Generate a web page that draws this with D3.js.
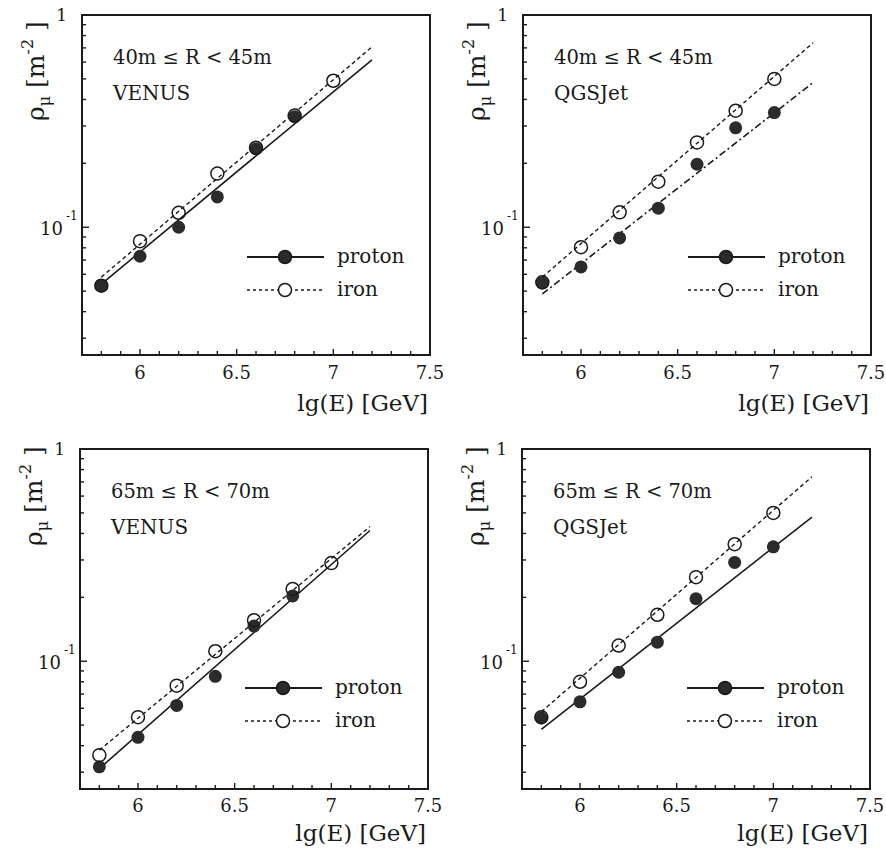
<!DOCTYPE html>
<html>
<head>
<meta charset="utf-8">
<script src="https://cdn.jsdelivr.net/npm/d3@7"></script>
<style>
  body { margin: 0; background: #fff; }
</style>
</head>
<body>
<svg id="chart" width="886" height="849"></svg>
<script>
// Energies (lg E) of the simulated points
const ENERGIES = [5.8, 6.0, 6.2, 6.4, 6.6, 6.8, 7.0];

// Muon densities (VENUS proton has no point at 7.0)
const VENUS_40_PROTON = [0.053, 0.073, 0.100, 0.139, 0.234, 0.332];
const VENUS_40_IRON = [0.053, 0.086, 0.117, 0.179, 0.237, 0.336, 0.49];
const QGSJET_40_PROTON = [0.0546, 0.065, 0.089, 0.123, 0.198, 0.294, 0.347];
const QGSJET_40_IRON = [0.055, 0.0805, 0.1175, 0.164, 0.251, 0.354, 0.50];
const VENUS_65_PROTON = [0.0318, 0.0438, 0.0619, 0.0849, 0.1465, 0.203];
const VENUS_65_IRON = [0.0361, 0.0545, 0.0767, 0.1115, 0.156, 0.219, 0.290];
const QGSJET_65_PROTON = [0.054, 0.0644, 0.0887, 0.123, 0.197, 0.292, 0.346];
const QGSJET_65_IRON = [0.0545, 0.080, 0.1186, 0.1655, 0.249, 0.356, 0.50];

// Fitted power laws: value at both ends of the fit range
const FIT_RANGE = [5.8, 7.2];
const VENUS_40_PROTON_FIT = [0.054, 0.615];
const VENUS_40_IRON_FIT = [0.0582, 0.708];
const QGSJET_40_PROTON_FIT = [0.0485, 0.48];
const QGSJET_40_IRON_FIT = [0.0582, 0.739];
const VENUS_65_PROTON_FIT = [0.0312, 0.413];
const VENUS_65_IRON_FIT = [0.0381, 0.431];
const QGSJET_65_PROTON_FIT = [0.0478, 0.478];
const QGSJET_65_IRON_FIT = [0.0578, 0.740];

// Axis ticks and texts
const X_TICK_LABELS = [6, 6.5, 7, 7.5];
const RADIUS_LABELS = ["40m ≤ R < 45m", "40m ≤ R < 45m", "65m ≤ R < 70m", "65m ≤ R < 70m"];
const MODEL_LABELS = ["VENUS", "QGSJet", "VENUS", "QGSJet"];
const LEGEND_LABELS = ["proton", "iron"];

// Panel table built from the arrays above
const PANELS = [
  { proton: VENUS_40_PROTON, iron: VENUS_40_IRON, pFit: VENUS_40_PROTON_FIT, fFit: VENUS_40_IRON_FIT, pDash: null },
  { proton: QGSJET_40_PROTON, iron: QGSJET_40_IRON, pFit: QGSJET_40_PROTON_FIT, fFit: QGSJET_40_IRON_FIT, pDash: "7,3,2,3" },
  { proton: VENUS_65_PROTON, iron: VENUS_65_IRON, pFit: VENUS_65_PROTON_FIT, fFit: VENUS_65_IRON_FIT, pDash: null },
  { proton: QGSJET_65_PROTON, iron: QGSJET_65_IRON, pFit: QGSJET_65_PROTON_FIT, fFit: QGSJET_65_IRON_FIT, pDash: null }
];
const ORIGINS = [[82, 15], [523, 15], [80, 449], [522, 449]];

const SVG = d3.select("#chart");
const W = 348;
const H = 340;
const INK = "#1a1a1a";

const SCALE_X = d3.scaleLinear().domain([5.7, 7.5]).range([0, W]);
const SCALE_Y = d3.scaleLog().domain([0.025, 1]).range([H, 0]);

const LINE = d3.line()
  .x(d => SCALE_X(d[0]))
  .y(d => SCALE_Y(d[1]));

// small helper: every label in the serif face that is available here
function label(sel, x, y, size, str) {
  return sel.append("text")
    .attr("x", x).attr("y", y)
    .style("font-family", "'DejaVu Serif', serif")
    .attr("font-size", size).attr("fill", INK)
    .text(str);
}

PANELS.forEach((p, i) => {
  const g = SVG.append("g").attr("transform", `translate(${ORIGINS[i][0]},${ORIGINS[i][1]})`);
  const top = i < 2;

  // x ticks every 0.1, pointing inward
  const xTicks = d3.range(58, 75).map(d => d / 10);
  g.selectAll("line.xt").data(xTicks).enter().append("line")
    .attr("x1", d => SCALE_X(d)).attr("x2", d => SCALE_X(d))
    .attr("y1", H).attr("y2", d => H - (Math.abs(d * 2 - Math.round(d * 2)) < 1e-6 ? 6 : 4))
    .attr("stroke", INK).attr("stroke-width", 1.4);

  // y log ticks, pointing inward
  g.selectAll("line.yt").data(SCALE_Y.ticks().filter(d => d < 1)).enter().append("line")
    .attr("x1", 0).attr("x2", d => (Math.abs(d - 0.1) < 1e-9 ? 7 : 4))
    .attr("y1", d => SCALE_Y(d)).attr("y2", d => SCALE_Y(d))
    .attr("stroke", INK).attr("stroke-width", 1.4);

  // frame
  g.append("rect").attr("width", W).attr("height", H)
    .attr("fill", "none").attr("stroke", INK).attr("stroke-width", 2);

  // x tick labels
  X_TICK_LABELS.forEach(d => {
    label(g, SCALE_X(d), H + (top ? 24 : 23), 18, d).attr("text-anchor", "middle");
  });

  // y tick labels: 1 and 10^-1
  label(g, -15, SCALE_Y(1) + 6, 17, "1").attr("text-anchor", "end");
  label(g, -19, SCALE_Y(0.1) + 8, 18, "10").attr("text-anchor", "end");
  label(g, -16, SCALE_Y(0.1) - 7, 12, "-1");

  // axis titles
  label(g, W - 2, top ? H + 56 : H + 52, 23, "lg(E) [GeV]").attr("text-anchor", "end");
  const yt = label(g, 0, 0, 25, null)
    .attr("transform", `translate(-38,${top ? 106 : 97}) rotate(-90)`);
  yt.append("tspan").text("ρ");
  yt.append("tspan").attr("font-size", 16).attr("dy", 6).text("μ");
  yt.append("tspan").attr("dy", -6).text(" [m");
  yt.append("tspan").attr("font-size", 16).attr("dy", -11).text("-2");
  yt.append("tspan").attr("dy", 11).text(" ]");

  // annotations
  label(g, 31, 49, 19.5, RADIUS_LABELS[i]);
  label(g, 31, 85, 20, MODEL_LABELS[i]);

  // fit lines
  g.append("path").datum(FIT_RANGE.map((x, k) => [x, p.pFit[k]]))
    .attr("d", LINE).attr("fill", "none").attr("stroke", INK).attr("stroke-width", 1.6)
    .attr("stroke-dasharray", p.pDash);
  g.append("path").datum(FIT_RANGE.map((x, k) => [x, p.fFit[k]]))
    .attr("d", LINE).attr("fill", "none").attr("stroke", INK).attr("stroke-width", 1.4)
    .attr("stroke-dasharray", "4,3");

  // proton points (filled)
  g.selectAll("circle.p").data(p.proton).enter().append("circle")
    .attr("cx", (d, k) => SCALE_X(ENERGIES[k])).attr("cy", d => SCALE_Y(d))
    .attr("r", 6.5).attr("fill", "#2b2b2b");

  // iron points (open)
  g.selectAll("circle.f").data(p.iron).enter().append("circle")
    .attr("cx", (d, k) => SCALE_X(ENERGIES[k])).attr("cy", d => SCALE_Y(d))
    .attr("r", 6.5).attr("fill", "none").attr("stroke", INK).attr("stroke-width", 1.5);

  // legend
  const lg = g.append("g").attr("transform", `translate(0,${top ? 242 : 239})`);
  [0, 1].forEach(k => {
    const y = k * 33;
    lg.append("line").attr("x1", 165).attr("x2", 242).attr("y1", y).attr("y2", y)
      .attr("stroke", INK).attr("stroke-width", k === 0 ? 2.2 : 1.6)
      .attr("stroke-dasharray", k === 0 ? null : "3,3");
    lg.append("circle").attr("cx", 203).attr("cy", y).attr("r", 6.5)
      .attr("fill", k === 0 ? "#2b2b2b" : "#fff")
      .attr("stroke", INK).attr("stroke-width", 1.5);
    label(lg, 255, y, 20, LEGEND_LABELS[k]).attr("dy", "0.32em");
  });
});
</script>
</body>
</html>
